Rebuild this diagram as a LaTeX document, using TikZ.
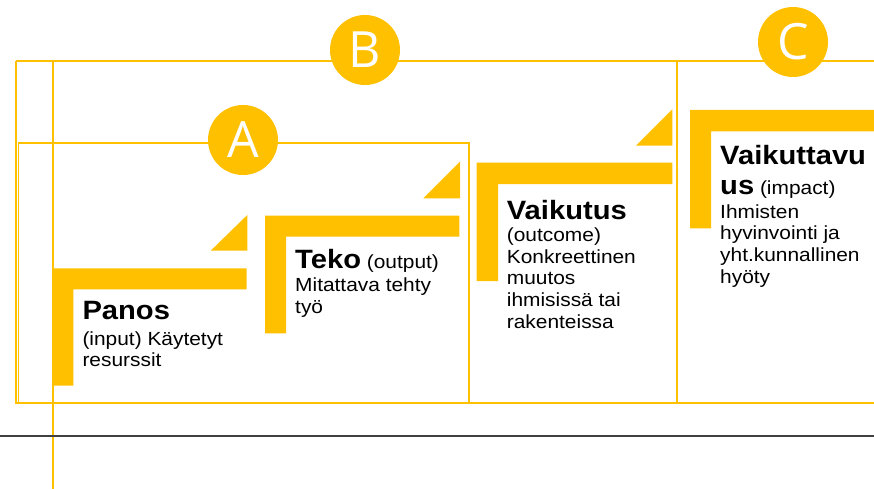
\documentclass[tikz,border=0pt]{standalone}
\usepackage{fontspec}
\setmainfont{Liberation Sans}[FakeStretch=1.1]
\newfontfamily\circfont{Open Sans}
\definecolor{gold}{HTML}{FFC000}
\definecolor{rulegray}{HTML}{404040}
\tikzset{
  frame/.style={draw=gold, line width=1.5pt},
  stepshape/.style={fill=gold},
  letter/.style={circle, fill=gold, minimum size=70pt, inner sep=0pt, text=white,
    font=\circfont\fontsize{50}{50}\selectfont},
  label/.style={anchor=base west, inner sep=0pt, align=left,
    font=\fontsize{19}{21.7}\selectfont},
}
\newcommand{\headtxt}[1]{{\fontsize{26.5}{30}\selectfont\bfseries #1}}
\begin{document}
\begin{tikzpicture}[x=1pt, y=-1pt]
\useasboundingbox (0,0) rectangle (874,489);
% frames
\draw[frame] (16,61) -- (880,61);
\draw[frame] (16,61) -- (16,403) -- (880,403);
\draw[frame] (677,61) -- (677,403);
\draw[frame] (18.5,143) rectangle (469,403);
\draw[frame] (53,61) -- (53,489);
\draw[draw=rulegray, line width=1.6pt] (0,436) -- (874,436);
% steps
\fill[stepshape] (52.3,268.3) -- (246.7,268.3) -- (246.7,289.3) -- (73.3,289.3) -- (73.3,385.7) -- (52.3,385.7) -- cycle;
\fill[stepshape] (247.3,215) -- (247.3,250.7) -- (210.7,250.7) -- cycle;
\fill[stepshape] (265,215.7) -- (459.3,215.7) -- (459.3,236.7) -- (286,236.7) -- (286,333.3) -- (265,333.3) -- cycle;
\fill[stepshape] (460,161.7) -- (460,198.3) -- (423.3,198.3) -- cycle;
\fill[stepshape] (476.7,162.7) -- (672.3,162.7) -- (672.3,184) -- (498,184) -- (498,281) -- (476.7,281) -- cycle;
\fill[stepshape] (672.3,109.3) -- (672.3,145.7) -- (636,145.7) -- cycle;
\fill[stepshape] (690,110) -- (880,110) -- (880,131.5) -- (711,131.5) -- (711,228.3) -- (690,228.3) -- cycle;
% circles
\node[letter] (A) at (243,140) {A};
\node[letter] (B) at (365,50) {B};
\node[letter] (C) at (793,42) {C};
% texts (anchored at the baseline of the last line)
\node[label] (panos) at (82.3,366.7) {\headtxt{Panos}\\[3.6pt](input) Käytetyt\\resurssit};
\node[label] (teko) at (295,313.3) {\headtxt{Teko} (output)\\[1.7pt]Mitattava tehty\\työ};
\node[label] (vaikutus) at (506.7,328.3) {\headtxt{Vaikutus}\\(outcome)\\Konkreettinen\\muutos\\ihmisissä tai\\rakenteissa};
\node[label] (vaikuttavuus) at (720,283.3) {\headtxt{Vaikuttavu}\\[8.3pt]\headtxt{us} (impact)\\[1.7pt]Ihmisten\\hyvinvointi ja\\yht.kunnallinen\\hyöty};
\end{tikzpicture}
\end{document}
